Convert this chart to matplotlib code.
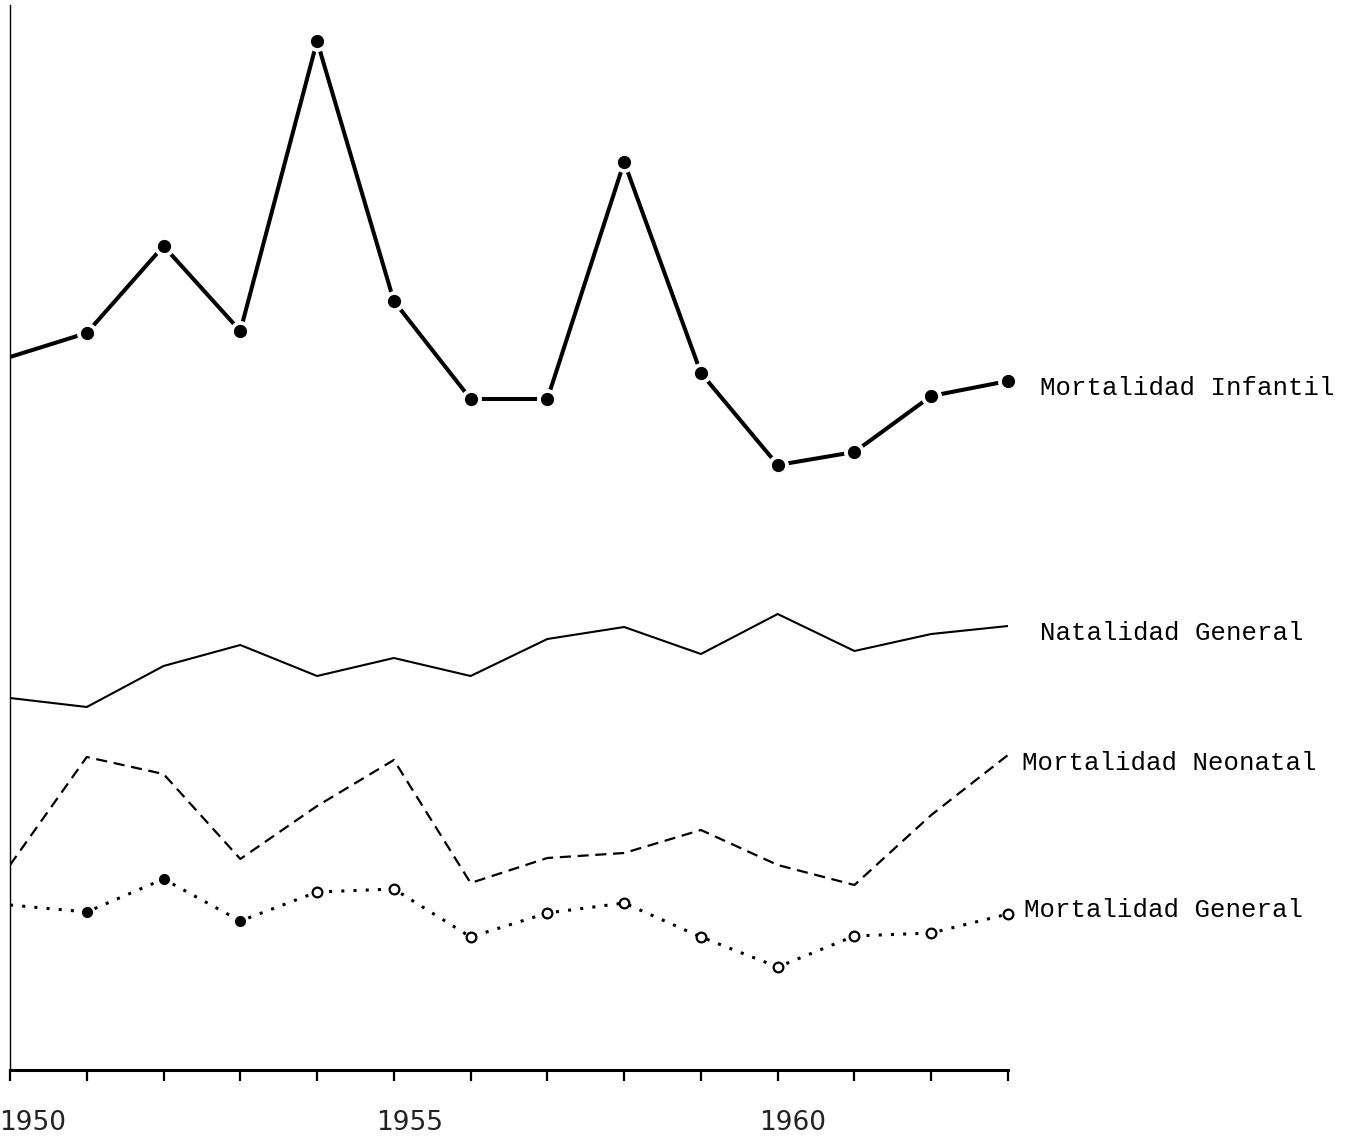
import matplotlib.pyplot as plt

years = list(range(1950, 1964))

# relative heights (no scale printed)
infantil = [71.3, 73.7, 82.4, 73.9, 102.9, 76.9, 67.1, 67.1, 90.8, 69.7, 60.5, 61.8, 67.4, 68.9]
natalidad = [37.2, 36.3, 40.4, 42.5, 39.4, 41.2, 39.4, 43.1, 44.3, 41.6, 45.6, 41.9, 43.6, 44.4]
neonatal = [20.5, 31.3, 29.6, 21.1, 26.4, 31.0, 18.7, 21.2, 21.7, 24.0, 20.5, 18.5, 25.5, 31.5]
general = [16.5, 15.8, 19.1, 14.9, 17.8, 18.1, 13.3, 15.7, 16.7, 13.3, 10.3, 13.4, 13.7, 15.6]

year_labels = {1950: "1950", 1955: "1955", 1960: "1960"}

labels = ["Mortalidad Infantil", "Natalidad General", "Mortalidad Neonatal", "Mortalidad General"]
label_pos = [(1963.42, 68.2), (1963.42, 43.7), (1963.18, 30.7), (1963.21, 16.0)]

fig = plt.figure(figsize=(13.5, 11.39), dpi=100)
ax = fig.add_axes([10 / 1350, 69 / 1139, 998 / 1350, 1065 / 1139])
ax.set_xlim(1950, 1963)
ax.set_ylim(0, 106.5)

# infantil: thick line, dots with a small gap around them
ax.plot(years, infantil, color="black", lw=2.9, zorder=2)
ax.plot(years[1:], infantil[1:], "o", color="white", ms=14, zorder=3, clip_on=False)
ax.plot(years[1:], infantil[1:], "o", color="black", ms=8.5, zorder=4, clip_on=False)

ax.plot(years, natalidad, color="black", lw=1.5)
ax.plot(years, neonatal, color="black", lw=1.6, ls=(0, (5, 3)))

ax.plot(years, general, color="black", lw=2.2, ls=(0, (1, 3)))
ax.plot(years[1:4], general[1:4], "o", color="black", ms=7, zorder=4)
ax.plot(years[4:], general[4:], "o", mfc="white", mec="black", mew=1.6, ms=7, zorder=4,
        clip_on=False)

for txt, (x, y) in zip(labels, label_pos):
    ax.text(x, y, txt, family="Liberation Mono", fontsize=18.5, va="center",
            ha="left", clip_on=False)

ax.spines["top"].set_visible(False)
ax.spines["right"].set_visible(False)
ax.spines["bottom"].set_linewidth(2.2)
ax.spines["left"].set_linewidth(1.0)
ax.set_yticks([])
ax.set_xticks(years)
ax.set_xticklabels([])
ax.tick_params(axis="x", direction="out", length=8, width=1.6)

for yr, txt in year_labels.items():
    ax.text(yr + (0.3 if yr == 1950 else 0.2), -5.3, txt, ha="center", va="center",
            fontsize=19, family="DejaVu Sans", color="#222222", clip_on=False)

fig.savefig("out.png", dpi=100)
